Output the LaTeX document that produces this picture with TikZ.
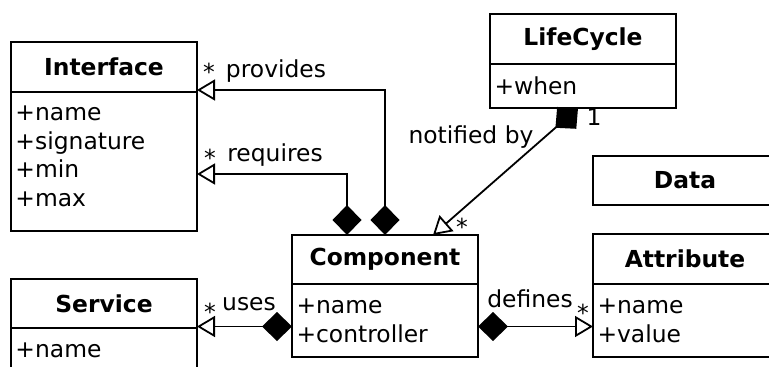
\documentclass[tikz,border=0pt]{standalone}
\usepackage{fontspec}
\setmainfont{DejaVu Sans}
\usetikzlibrary{arrows.meta}

\tikzset{
  classhead/.style={draw, line width=2pt, outer sep=0pt, inner sep=0pt,
    anchor=north west, minimum width=186pt, minimum height=50pt,
    font=\fontsize{23.4}{28.7}\selectfont\bfseries},
  classbody/.style={draw, line width=2pt, outer sep=0pt, inner xsep=4.5pt,
    inner ysep=0pt, anchor=north west, text width=177pt, align=left,
    font=\fontsize{23.4}{28.7}\selectfont},
  owns/.style={line width=1.8pt,
    {Diamond[length=30pt,width=29pt]}-{Triangle[open,length=18pt,width=21pt]}},
  role/.style={anchor=base, inner sep=0pt, font=\fontsize{23.4}{28.7}\selectfont},
}

\begin{document}
\begin{tikzpicture}[x=1pt, y=-1pt]
  \useasboundingbox (0,0) rectangle (769,367);
  \clip (0,0) rectangle (769,367);

  % classes
  \node [classhead] (ifacehead) at (11,42) {Interface};
  \node [classbody, minimum height=139pt, text depth=97pt] (ifacebody) at (11,92)
    {+name\\+signature\\+min\\+max};

  \node [classhead] (lifehead) at (490,14) {LifeCycle};
  \node [classbody, minimum height=44pt] (lifebody) at (490,64) {+when};

  \node [classhead, minimum width=184pt, minimum height=49pt] (datahead) at (593,156) {Data};

  \node [classhead, minimum height=49pt] (comphead) at (292,235) {Component};
  \node [classbody, minimum height=73pt] (compbody) at (292,284) {+name\\+controller};

  \node [classhead, minimum width=184pt] (attrhead) at (593,234) {Attribute};
  \node [classbody, minimum height=73pt, text width=175pt] (attrbody) at (593,284)
    {+name\\+value};

  \node [classhead, minimum height=49pt] (servhead) at (11,279) {Service};
  \node [classbody, minimum height=44pt] (servbody) at (11,328) {+name};

  % associations
  \draw [owns] (comphead.north) |- ([yshift=2pt]ifacehead.south east);
  \draw [owns] ([xshift=-38pt]comphead.north) |- ([yshift=-12.5pt]ifacebody.east);
  \draw [owns] ([xshift=-5pt]lifebody.south) -- ([xshift=48pt]comphead.north);
  \draw [owns] ([yshift=-6pt]compbody.west) -- ([yshift=1.5pt]servhead.south east);
  \draw [owns] ([yshift=-6pt]compbody.east) -- ([yshift=-6pt]attrbody.west);

  % role names and multiplicities
  \node [role] (provname) at (276,77) {provides};
  \node [role] (provmult) at (209,80) {*};
  \node [role] (reqname) at (275,161) {requires};
  \node [role] (reqmult) at (210,166) {*};
  \node [role] (notename) at (471,143) {notified by};
  \node [role] (noteone) at (594,125) {1};
  \node [role] (notemult) at (462,235) {*};
  \node [role] (usesname) at (249,310) {uses};
  \node [role] (usesmult) at (210,320) {*};
  \node [role] (defname) at (530,307) {defines};
  \node [role] (defmult) at (583,321) {*};
\end{tikzpicture}
\end{document}
